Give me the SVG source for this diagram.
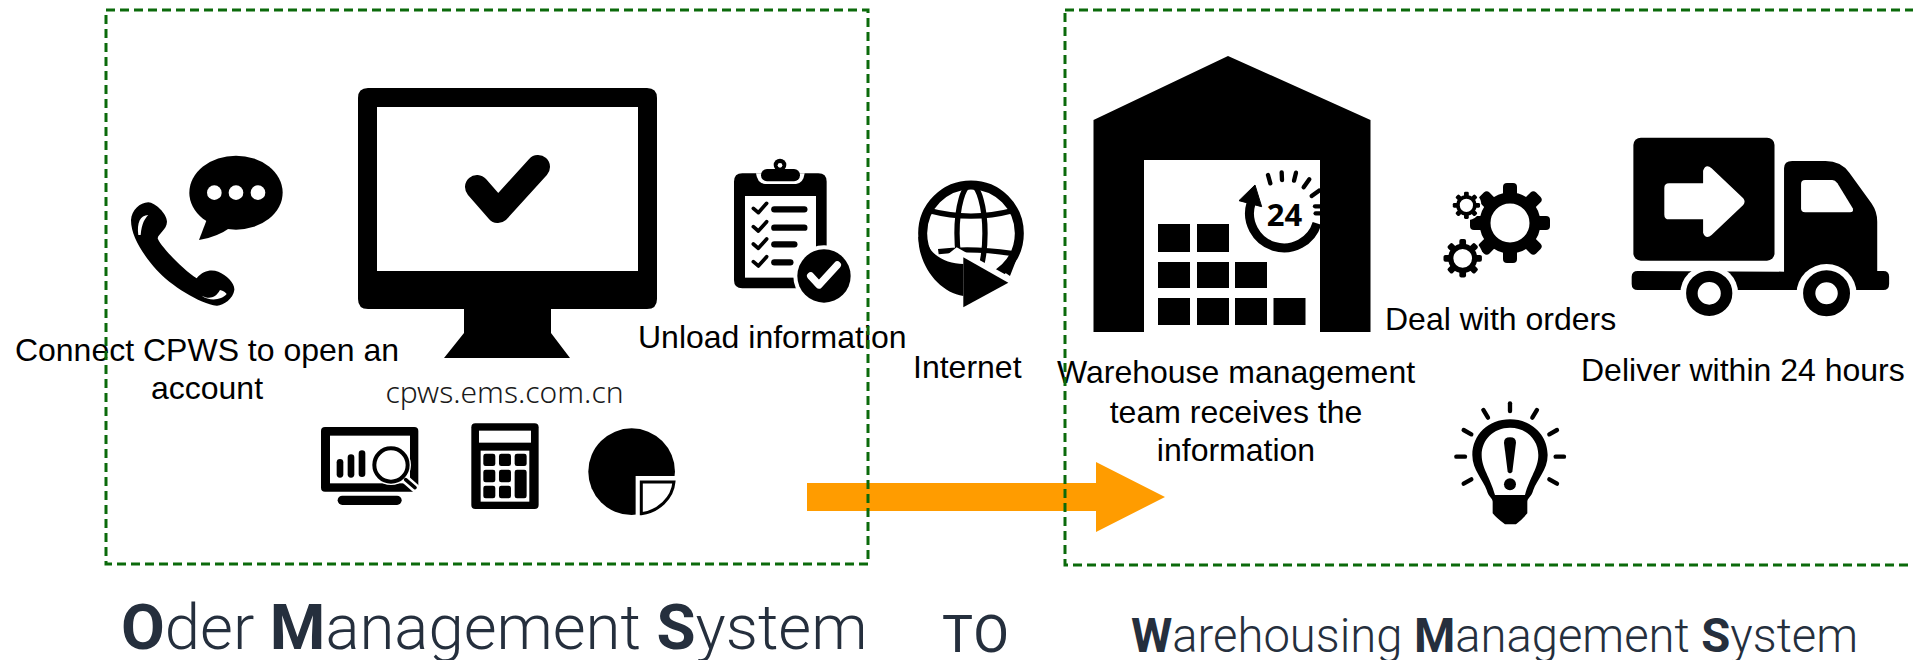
<svg xmlns="http://www.w3.org/2000/svg" xmlns:xlink="http://www.w3.org/1999/xlink" width="1913" height="660" viewBox="0 0 1913 660">
<style>
.lb{font-family:"Liberation Sans",Arial,sans-serif;font-size:32px;fill:#000}
.c{text-anchor:middle}
.t{font-family:Roboto,"Noto Sans",sans-serif;font-weight:300;fill:#252f3d}
.b{font-weight:700}
.box{fill:none;stroke:#0b6a0b;stroke-width:3;stroke-dasharray:9 5}
.w{fill:#fff}
.k{fill:#000}
.sk{fill:none;stroke:#000;stroke-linecap:round}
</style>
<defs>
<g id="gear">
<circle r="25" fill="none" stroke="#000" stroke-width="11"/>
<g class="k">
<rect x="-7" y="-40" width="14" height="18" rx="4"/>
<rect x="-7" y="-40" width="14" height="18" rx="4" transform="rotate(45)"/>
<rect x="-7" y="-40" width="14" height="18" rx="4" transform="rotate(90)"/>
<rect x="-7" y="-40" width="14" height="18" rx="4" transform="rotate(135)"/>
<rect x="-7" y="-40" width="14" height="18" rx="4" transform="rotate(180)"/>
<rect x="-7" y="-40" width="14" height="18" rx="4" transform="rotate(225)"/>
<rect x="-7" y="-40" width="14" height="18" rx="4" transform="rotate(270)"/>
<rect x="-7" y="-40" width="14" height="18" rx="4" transform="rotate(315)"/>
</g>
</g>
</defs>
<rect width="1913" height="660" fill="#fff"/>

<g id="connectors">
<path d="M807,483H1096V462L1165,497L1096,532V511H807Z" fill="#ff9c00"/>
</g>

<g id="phone-node">
<g transform="translate(120,150) scale(.3333)">
<ellipse cx="348" cy="128" rx="140" ry="111" class="k"/>
<path d="M262,205L237,270Q290,262 335,230Z" class="k"/>
<circle cx="283" cy="128" r="22" class="w"/><circle cx="348" cy="128" r="22" class="w"/><circle cx="414" cy="128" r="22" class="w"/>
<path d="M33,210C35,180 60,158 85,157C105,158 140,190 141,215C140,240 115,250 113,265C118,285 190,360 230,385C250,360 275,358 295,365C320,375 345,400 343,420C340,445 310,468 290,467C240,462 150,405 110,360C70,315 33,260 33,210Z" class="k"/>
<path d="M55,255C50,220 60,195 85,195C75,205 65,220 62,255Z" class="w"/>
<path d="M245,437C265,447 285,447 300,420C310,422 318,428 320,432C305,450 270,455 245,437Z" class="w"/>
</g>
<text class="lb c" x="207" y="361">Connect CPWS to open an</text>
<text class="lb c" x="207" y="399">account</text>
</g>

<g id="monitor-node">
<path d="M368,88H647Q657,88 657,98V299Q657,309 647,309H551V333L570,358H444L464,333V309H368Q358,309 358,299V98Q358,88 368,88Z" class="k"/>
<rect x="377" y="107" width="261" height="164" class="w"/>
<path d="M477,187L498,211L538,167" fill="none" stroke="#000" stroke-width="24" stroke-linecap="round" stroke-linejoin="round"/>
<text x="504.500" y="403" text-anchor="middle" font-family="'Noto Sans','Open Sans',sans-serif" font-weight="300" font-size="30" fill="#1a1a1a">cpws.ems.com.cn</text>
</g>

<g id="clipboard-node">
<g transform="translate(720,150) scale(.3333)">
<path d="M67,70H295Q320,70 320,95V390Q320,415 295,415H67Q42,415 42,390V95Q42,70 67,70Z" class="k"/>
<rect x="75" y="138" width="213" height="245" class="w"/>
<path d="M108,70Q112,100 135,102H228Q250,100 254,70Z" class="w"/>
<circle cx="180" cy="45" r="19" class="k"/>
<rect x="123" y="57" width="117" height="37" rx="18" class="k"/>
<circle cx="180" cy="46" r="7" class="w"/>
<g fill="none" stroke="#000" stroke-width="11" stroke-linecap="round" stroke-linejoin="round">
<path d="M100,175L115,188L140,160"/><path d="M100,230L115,243L140,215"/><path d="M100,282L115,295L140,267"/><path d="M100,335L115,348L140,320"/>
</g>
<g fill="none" stroke="#000" stroke-width="19" stroke-linecap="round">
<path d="M163,178H253"/><path d="M163,233H253"/><path d="M163,283H223"/><path d="M163,337H211"/>
</g>
<circle cx="312" cy="378" r="92" class="w"/>
<circle cx="312" cy="378" r="80" class="k"/>
<path d="M272,378L297,405L352,345" fill="none" stroke="#fff" stroke-width="22" stroke-linecap="round" stroke-linejoin="round"/>
</g>
<text class="lb" x="638" y="348">Unload information</text>
</g>

<g id="analytics-node">
<g transform="translate(310,415) scale(.3333)">
<rect x="33" y="36" width="292" height="194" rx="12" class="k"/>
<rect x="60" y="62" width="240" height="143" class="w"/>
<rect x="83" y="242" width="192" height="28" rx="14" class="k"/>
<rect x="80" y="132" width="20" height="56" rx="10" class="k"/>
<rect x="113" y="118" width="20" height="70" rx="10" class="k"/>
<rect x="146" y="106" width="20" height="80" rx="10" class="k"/>
<circle cx="243" cy="150" r="60" class="w"/>
<path d="M285,192L330,232" fill="none" stroke="#fff" stroke-width="26"/>
<circle cx="243" cy="150" r="50" fill="#fff" stroke="#000" stroke-width="12"/>
<path d="M287,194L315,218" fill="none" stroke="#000" stroke-width="11" stroke-linecap="round"/>
</g>
</g>

<g id="calculator-node">
<g transform="translate(310,415) scale(.3333)">
<rect x="484" y="25" width="202" height="257" rx="12" class="k"/>
<rect x="507" y="47" width="156" height="36" class="w"/>
<rect x="512" y="107" width="146" height="153" class="w"/>
<rect x="520" y="116" width="36" height="37" rx="7" class="k"/><rect x="567" y="116" width="36" height="37" rx="7" class="k"/><rect x="614" y="116" width="36" height="37" rx="7" class="k"/>
<rect x="520" y="164" width="36" height="38" rx="7" class="k"/><rect x="567" y="164" width="36" height="38" rx="7" class="k"/><rect x="614" y="164" width="36" height="86" rx="7" class="k"/>
<rect x="520" y="212" width="36" height="38" rx="7" class="k"/><rect x="567" y="212" width="36" height="38" rx="7" class="k"/>
</g>
</g>

<g id="pie-node">
<g transform="translate(310,415) scale(.3333)">
<circle cx="965" cy="170" r="130" class="k"/>
<rect x="977" y="183" width="130" height="130" class="w"/>
<path d="M994,201H1092C1088,250 1045,290 994,296Z" fill="#fff" stroke="#000" stroke-width="9"/>
</g>
</g>

<g id="globe-node">
<g transform="translate(910,170) scale(.3333)">
<circle cx="183" cy="190" r="145" fill="none" stroke="#000" stroke-width="27"/>
<ellipse cx="183" cy="190" rx="42" ry="145" fill="none" stroke="#000" stroke-width="16"/>
<path d="M58,122Q183,155 308,122" fill="none" stroke="#000" stroke-width="16"/>
<path d="M85,245Q183,232 305,250" fill="none" stroke="#000" stroke-width="16"/>
<path d="M140,232L325,335L325,470L90,470L90,272Z" class="w"/>
<path d="M25,200C25,290 90,368 160,378L160,282C110,282 55,255 48,205Z" class="k"/>
<path d="M160,262L295,338L160,412Z" class="k"/>
<path d="M270,298L298,285L322,262L300,318Z" class="k"/>
</g>
<text class="lb" x="913" y="378">Internet</text>
</g>

<g id="warehouse-node">
<path d="M1228,56L1370.500,120V332H1320V160H1144V332H1093.500V120Z" class="k"/>
<g class="k">
<rect x="1158" y="224" width="32" height="28"/><rect x="1197" y="224" width="32" height="28"/>
<rect x="1158" y="262" width="32" height="26"/><rect x="1197" y="262" width="32" height="26"/><rect x="1235" y="262" width="32" height="26"/>
<rect x="1158" y="298" width="32" height="27"/><rect x="1197" y="298" width="32" height="27"/><rect x="1235" y="298" width="32" height="27"/><rect x="1273.500" y="298" width="32" height="27"/>
</g>
<g transform="translate(1220,160) scale(.3333)">
<path d="M93,130A101,101 0 1 0 291,190" fill="none" stroke="#000" stroke-width="27"/>
<path d="M105,75L57,122L125,140Z" class="k" stroke="#000" stroke-width="3" stroke-linejoin="round"/>
<g class="sk" stroke-width="13" stroke-linecap="butt">
<path d="M144,45L151,70"/><path d="M185,37L186,60"/><path d="M228,38L222,62"/><path d="M268,58L251,82"/><path d="M297,92L275,108"/><path d="M300,139L285,139"/><path d="M300,160L287,160"/>
</g>
</g>
<text x="1284.500" y="226" text-anchor="middle" font-family="'Open Sans',sans-serif" font-weight="700" font-size="31" fill="#000">24</text>
<text class="lb c" x="1236" y="383">Warehouse management</text>
<text class="lb c" x="1236" y="423">team receives the</text>
<text class="lb c" x="1236" y="461">information</text>
</g>

<g id="gears-node">
<use xlink:href="#gear" href="#gear" transform="translate(1510,223)"/>
<circle cx="1466.400" cy="205.300" r="15" class="w"/>
<circle cx="1462.700" cy="258.300" r="20.500" class="w"/>
<use xlink:href="#gear" href="#gear" transform="translate(1466.400,205.300) scale(.34)"/>
<use xlink:href="#gear" href="#gear" transform="translate(1462.700,258.300) scale(.48)"/>
<text class="lb" x="1385" y="330">Deal with orders</text>
</g>

<g id="truck-node">
<g transform="translate(1380,100) scale(.3401,.3333)">
<rect x="745" y="113" width="415" height="369" rx="22" class="k"/>
<path d="M850,250H950V212Q958,190 975,205L1068,295Q1076,305 1068,315L975,405Q958,420 950,398V358H850Q836,358 836,344V264Q836,250 850,250Z" class="w"/>
<path d="M1188,515V205Q1188,183 1212,183H1310Q1355,183 1380,218L1445,310Q1462,335 1462,365V513H1480Q1497,513 1497,530V552Q1497,570 1480,570H758Q740,570 740,552V530Q740,513 758,513Z" class="k"/>
<path d="M1250,240H1330Q1338,240 1345,250L1390,325Q1394,337 1382,337H1250Q1238,337 1238,325V252Q1238,240 1250,240Z" class="w"/>
<circle cx="968" cy="580" r="85" class="w"/>
<circle cx="1313" cy="580" r="88" class="w"/>
<circle cx="968" cy="580" r="51" fill="none" stroke="#000" stroke-width="34"/>
<circle cx="1313" cy="580" r="51" fill="none" stroke="#000" stroke-width="36"/>
</g>
<text class="lb" x="1581" y="381">Deliver within 24 hours</text>
</g>

<g id="bulb-node">
<g transform="translate(1430,390) scale(.3333)">
<path d="M240,88C175,88 127,135 127,195C127,240 160,270 170,300C175,320 188,325 188,335V370Q200,385 225,403H258Q280,385 292,370V335C292,325 305,320 310,300C320,270 353,240 353,195C353,135 305,88 240,88Z" class="k"/>
<path d="M240,113C190,113 155,150 155,195C155,235 180,260 195,315H285C300,260 325,235 325,195C325,150 290,113 240,113Z" class="w"/>
<path d="M222,158Q222,142 240,142Q258,142 258,158L247,245Q240,255 233,245Z" class="k"/>
<circle cx="240" cy="283" r="18" class="k"/>
<g class="sk" stroke-width="13">
<path d="M240,40V63"/><path d="M160,60L174,83"/><path d="M321,60L307,83"/><path d="M101,120L124,133"/><path d="M381,120L358,133"/><path d="M79,200H105"/><path d="M377,200H402"/><path d="M101,281L124,268"/><path d="M381,281L358,268"/>
</g>
</g>
</g>

<g id="left-box"><rect class="box" x="106" y="10" width="762" height="554"/></g>
<g id="right-box"><rect class="box" x="1065" y="10" width="900" height="555"/></g>

<g id="titles">
<text class="t" x="121" y="649" font-size="63.500"><tspan class="b">O</tspan>der <tspan class="b">M</tspan>anagement <tspan class="b">S</tspan>ystem</text>
<text class="t" x="942" y="652" font-size="52" letter-spacing="1" style="font-weight:400">TO</text>
<text class="t" x="1131" y="652" font-size="47.200"><tspan class="b">W</tspan>arehousing <tspan class="b">M</tspan>anagement <tspan class="b">S</tspan>ystem</text>
</g>
</svg>
